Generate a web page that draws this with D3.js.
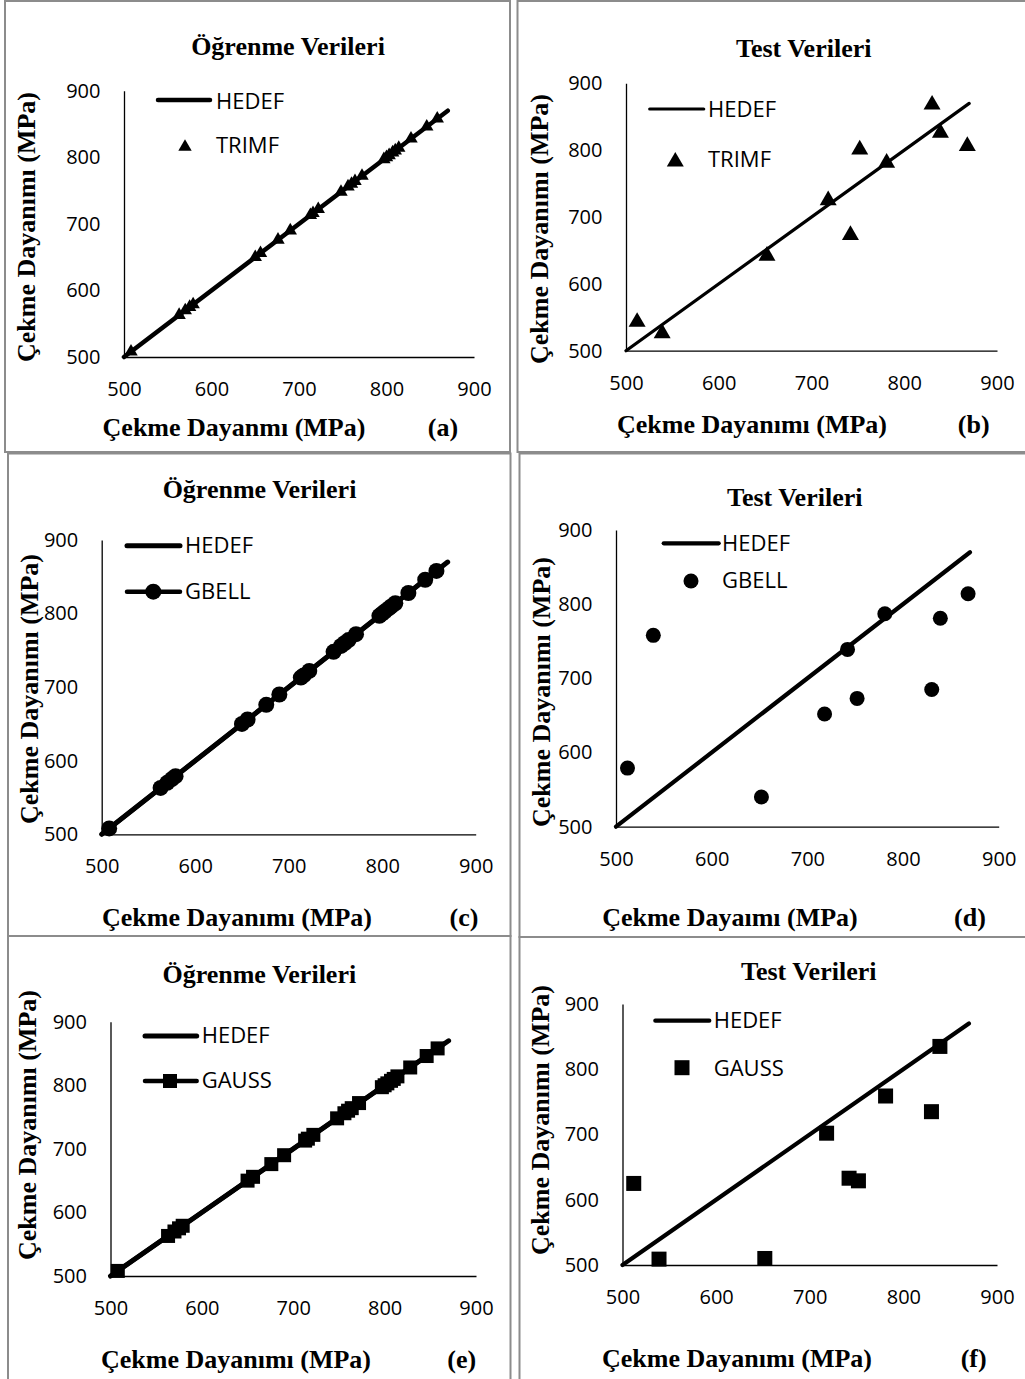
<!DOCTYPE html>
<html>
<head>
<meta charset="utf-8">
<script src="https://cdn.jsdelivr.net/npm/d3@7"></script>
<style>
  html, body { margin: 0; padding: 0; background: #fff; }
  svg { display: block; }
</style>
</head>
<body>
<svg id="chart" width="1025" height="1379"></svg>
<script>
// ---------------- DATA ----------------
const axisTicks = [500, 600, 700, 800, 900];
const hedefLine = [500, 870];               // target (HEDEF) line end values
// training data (target vs model output, nearly identical)
const trainTarget = [508, 563, 570, 575, 579, 650, 656, 676, 690, 713, 716, 722, 748, 756, 760, 764, 772, 797, 800, 803, 807, 810, 814, 828, 846, 858];
const trainTrimf  = [508, 563, 570, 575, 579, 650, 656, 676, 690, 713, 716, 722, 748, 756, 760, 764, 772, 797, 800, 803, 807, 810, 814, 828, 846, 858];
const trainGbell  = [508, 563, 570, 575, 579, 650, 656, 676, 690, 713, 716, 722, 748, 756, 760, 764, 772, 797, 800, 803, 807, 810, 814, 828, 846, 858];
const trainGauss  = [508, 563, 570, 575, 579, 650, 656, 676, 690, 713, 716, 722, 748, 756, 760, 764, 772, 797, 800, 803, 807, 810, 814, 828, 846, 858];
// test data
const testTarget = [512, 539, 652, 718, 742, 752, 781, 830, 839, 868];
const testTrimf  = [543, 526, 642, 725, 673, 801, 781, 868, 826, 806];
const testGbell  = [579, 758, 540, 652, 739, 673, 787, 685, 781, 814];
const testGauss  = [625, 509, 510, 702, 633, 629, 759, 735, 835, null];

const titles  = ["Öğrenme Verileri", "Test Verileri", "Öğrenme Verileri", "Test Verileri", "Öğrenme Verileri", "Test Verileri"];
const xTitles = ["Çekme Dayanmı (MPa)", "Çekme Dayanımı (MPa)", "Çekme Dayanımı (MPa)", "Çekme Dayaımı (MPa)", "Çekme Dayanımı (MPa)", "Çekme Dayanımı (MPa)"];
const yTitle  = "Çekme Dayanımı (MPa)";
const tags    = ["(a)", "(b)", "(c)", "(d)", "(e)", "(f)"];
const seriesNames = ["TRIMF", "TRIMF", "GBELL", "GBELL", "GAUSS", "GAUSS"];
const lineName = "HEDEF";

// ---------------- LAYOUT ----------------
const panels = [
  { box:[5,1,505,451],   x:[124,474],   y:[357,90.7],   title:[288,55],    xt:[234,436],  tag:[443,436],  yt:[35,227],
    leg:{l:[158,210,100], t1:[216,109.3], m:[185,147], t2:[216,153], mline:false},
    tx: trainTarget, ty: trainTrimf, sym:"tri", msize:78, connect:false, lw:4.5 },
  { box:[517.5,1,520,451], x:[626,997], y:[350.7,83.3], title:[803.7,56.7], xt:[752,433], tag:[973.7,433], yt:[548,229],
    leg:{l:[649.7,703.7,109], t1:[708,117.3], m:[675.3,161.7], t2:[708,166.7], mline:false},
    tx: testTarget, ty: testTrimf, sym:"tri", msize:125, connect:false, lw:3.2 },
  { box:[8,453.5,502.5,482.5], x:[101.7,475.7], y:[834.3,540], title:[259.5,497.7], xt:[237,926], tag:[464,926], yt:[38,689],
    leg:{l:[127,180,545.7], t1:[185,553.3], m:[153.3,591.7], t2:[185,599], mline:true},
    tx: trainTarget, ty: trainGbell, sym:"circle", msize:8, connect:true, lw:5 },
  { box:[519.5,453.5,520,483.5], x:[616,998.7], y:[826.7,530], title:[794.7,505.7], xt:[730,926], tag:[970,926], yt:[550,692],
    leg:{l:[663.7,718.7,543.3], t1:[722,551], m:[691,581], t2:[722,588.3], mline:false},
    tx: testTarget, ty: testGbell, sym:"circle", msize:7.5, connect:false, lw:4.2 },
  { box:[8,936,502.5,460], x:[110.5,476], y:[1276,1021.7], title:[259.3,982.7], xt:[236,1368], tag:[461.7,1368], yt:[36,1125],
    leg:{l:[145,196.7,1036], t1:[201.7,1043.3], m:[170,1081], t2:[201.7,1087.7], mline:true},
    tx: trainTarget, ty: trainGauss, sym:"square", msize:14, connect:true, lw:5 },
  { box:[519.5,937,520,460], x:[622.5,997], y:[1265,1004], title:[808.7,980], xt:[737,1366.7], tag:[973.7,1366.7], yt:[549,1120],
    leg:{l:[655.3,709.3,1020.7], t1:[713.7,1028.3], m:[682,1067.7], t2:[713.7,1075.7], mline:false},
    tx: testTarget, ty: testGauss, sym:"square", msize:15, connect:false, lw:4.2 }
];

const serif = "'Liberation Serif', 'Times New Roman', serif";
const sans  = "'Open Sans', 'Noto Sans', sans-serif";

const svg = d3.select("#chart");

function marker(g, type, size, cx, cy) {
  if (type === "circle") {
    g.append("circle").attr("cx", cx).attr("cy", cy).attr("r", size).attr("fill", "#000");
  } else if (type === "square") {
    g.append("rect").attr("x", cx - size/2).attr("y", cy - size/2).attr("width", size).attr("height", size).attr("fill", "#000");
  } else {
    g.append("path").attr("d", d3.symbol(d3.symbolTriangle, size)())
      .attr("transform", `translate(${cx},${cy})`).attr("fill", "#000");
  }
}

panels.forEach((p, i) => {
  const g = svg.append("g");
  // panel border
  g.append("rect").attr("x", p.box[0]).attr("y", p.box[1]).attr("width", p.box[2]).attr("height", p.box[3])
    .attr("fill", "none").attr("stroke", "#8c8c8c").attr("stroke-width", 2);

  const x = d3.scaleLinear().domain([500, 900]).range(p.x);
  const y = d3.scaleLinear().domain([500, 900]).range(p.y);

  // axes
  const xa = g.append("g").attr("transform", `translate(0,${p.y[0]})`)
    .call(d3.axisBottom(x).tickValues(axisTicks).tickSize(0).tickSizeOuter(0).tickPadding(25));
  const ya = g.append("g").attr("transform", `translate(${p.x[0]},0)`)
    .call(d3.axisLeft(y).tickValues(axisTicks).tickSize(0).tickSizeOuter(0).tickPadding(23.5));
  [xa, ya].forEach(a => {
    a.select(".domain").attr("stroke", "#000").attr("stroke-width", 1.3);
    a.selectAll("text").attr("font-family", sans).attr("font-size", 20).attr("fill", "#000");
  });

  // target line (HEDEF)
  g.append("line")
    .attr("x1", x(hedefLine[0])).attr("y1", y(hedefLine[0]))
    .attr("x2", x(hedefLine[1])).attr("y2", y(hedefLine[1]))
    .attr("stroke", "#000").attr("stroke-width", p.lw).attr("stroke-linecap", "round");

  // series
  const pts = p.tx.map((v, k) => [v, p.ty[k]]).filter(d => d[1] != null);
  if (p.connect) {
    const sorted = pts.slice().sort((a, b) => a[0] - b[0]);
    g.append("path").attr("d", d3.line().x(d => x(d[0])).y(d => y(d[1]))(sorted))
      .attr("fill", "none").attr("stroke", "#000").attr("stroke-width", 4.5);
  }
  pts.forEach(d => marker(g, p.sym, p.msize, x(d[0]), y(d[1])));

  // title
  g.append("text").attr("x", p.title[0]).attr("y", p.title[1]).attr("text-anchor", "middle")
    .attr("font-family", serif).attr("font-weight", "bold").attr("font-size", 26).text(titles[i]);
  // x title and tag
  g.append("text").attr("x", p.xt[0]).attr("y", p.xt[1]).attr("text-anchor", "middle")
    .attr("font-family", serif).attr("font-weight", "bold").attr("font-size", 26).text(xTitles[i]);
  g.append("text").attr("x", p.tag[0]).attr("y", p.tag[1]).attr("text-anchor", "middle")
    .attr("font-family", serif).attr("font-weight", "bold").attr("font-size", 26).text(tags[i]);
  // y title
  g.append("text").attr("transform", `translate(${p.yt[0]},${p.yt[1]}) rotate(-90)`).attr("text-anchor", "middle")
    .attr("font-family", serif).attr("font-weight", "bold").attr("font-size", 26).text(yTitle);

  // legend
  const L = p.leg;
  g.append("line").attr("x1", L.l[0]).attr("x2", L.l[1]).attr("y1", L.l[2]).attr("y2", L.l[2])
    .attr("stroke", "#000").attr("stroke-width", p.lw).attr("stroke-linecap", "round");
  g.append("text").attr("x", L.t1[0]).attr("y", L.t1[1]).attr("font-family", sans).attr("font-size", 22).text(lineName);
  if (L.mline) {
    g.append("line").attr("x1", L.l[0]).attr("x2", L.l[1]).attr("y1", L.m[1]).attr("y2", L.m[1])
      .attr("stroke", "#000").attr("stroke-width", 4.5).attr("stroke-linecap", "round");
  }
  marker(g, p.sym, p.msize, L.m[0], L.m[1]);
  g.append("text").attr("x", L.t2[0]).attr("y", L.t2[1]).attr("font-family", sans).attr("font-size", 22).text(seriesNames[i]);
});
</script>
</body>
</html>
